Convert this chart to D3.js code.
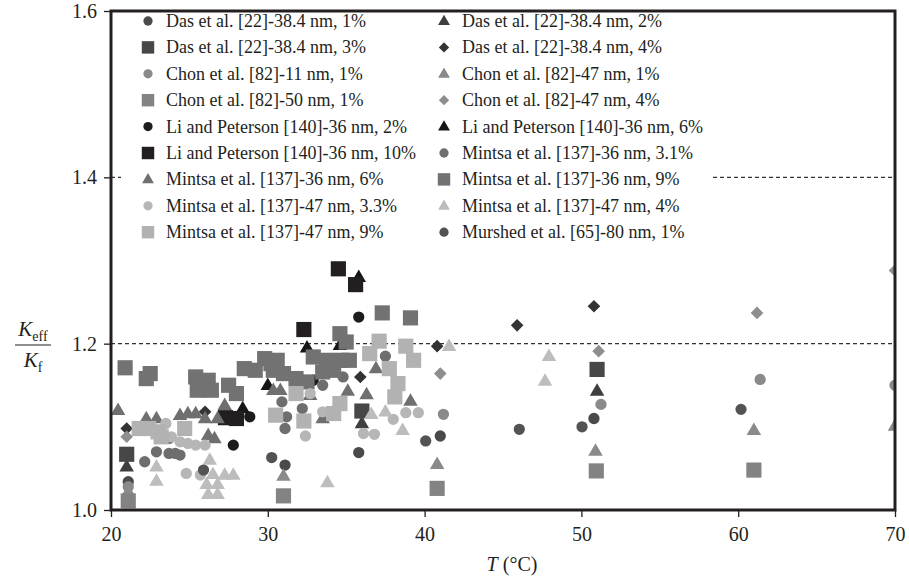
<!DOCTYPE html>
<html>
<head>
<meta charset="utf-8">
<script src="https://cdn.jsdelivr.net/npm/d3@7"></script>
<style>
  html, body { margin: 0; padding: 0; background: #fff; }
  svg { display: block; }
  text { font-family: "Liberation Serif", "DejaVu Serif", serif; fill: #231f20; }
</style>
</head>
<body>
<svg id="chart" width="909" height="578"></svg>
<script>
// Effective thermal conductivity ratio of nanofluids vs temperature, [T (°C), Keff/Kf]
const das1 = [[21.1,1.034],[31.1,1.054],[35.8,1.069],[41.0,1.089],[50.8,1.110]];
const das2 = [[21.0,1.052],[36.0,1.104],[51.0,1.143]];
const das3 = [[21.0,1.067],[36.0,1.119],[51.0,1.169]];
const das4 = [[21.0,1.098],[26.0,1.118],[35.9,1.160],[40.8,1.197],[45.9,1.222],[50.8,1.245]];
const chon11 = [[21.1,1.028],[41.2,1.115],[51.25,1.127],[61.4,1.157],[70,1.150]];
const chon47a = [[21.1,1.022],[31.0,1.041],[40.8,1.055],[50.9,1.071],[61.0,1.096],[70,1.101]];
const chon50 = [[21.1,1.011],[31.0,1.017],[40.8,1.026],[50.95,1.047],[61.0,1.048]];
const chon47b = [[21.0,1.088],[41.0,1.164],[51.1,1.191],[61.2,1.237],[70,1.288]];
const li2 = [[27.8,1.078],[28.85,1.112],[32.9,1.156],[35.8,1.232]];
const li6 = [[28.4,1.122],[30.0,1.150],[32.5,1.195],[34.6,1.198],[35.8,1.280]];
const li10 = [[27.3,1.111],[28.0,1.110],[32.3,1.217],[34.5,1.290],[35.6,1.271]];
const mintsa31 = [[22.15,1.058],[22.9,1.070],[23.7,1.086],[23.7,1.068],[24.1,1.068],[24.4,1.066],[30.9,1.130],[31.1,1.098],[31.2,1.112],[32.2,1.122],[33.5,1.150],[34.8,1.160],[37.5,1.185]];
const mintsa6 = [[20.45,1.120],[22.25,1.110],[22.9,1.110],[24.4,1.114],[24.9,1.116],[25.4,1.116],[26.0,1.110],[26.8,1.110],[26.2,1.090],[26.6,1.086],[27.25,1.126],[30.35,1.144],[30.8,1.144],[32.7,1.138],[33.5,1.110],[35.1,1.143],[36.3,1.139],[36.9,1.170],[39.1,1.131]];
const mintsa9 = [[20.9,1.171],[22.25,1.158],[22.5,1.164],[25.4,1.160],[25.5,1.144],[26.2,1.156],[26.4,1.144],[27.5,1.150],[28.0,1.140],[28.5,1.170],[29.2,1.168],[29.8,1.182],[30.2,1.176],[30.35,1.168],[30.6,1.180],[31.0,1.164],[31.8,1.158],[32.5,1.154],[32.9,1.184],[33.5,1.166],[33.75,1.180],[34.2,1.168],[34.6,1.212],[35.0,1.202],[34.7,1.180],[35.2,1.180],[37.3,1.237],[39.1,1.231]];
const mintsa47a = [[23.5,1.104],[23.85,1.088],[24.4,1.082],[24.9,1.080],[25.4,1.078],[26.0,1.078],[24.8,1.044],[25.7,1.042],[32.4,1.089],[32.7,1.140],[33.5,1.118],[36.1,1.092],[36.8,1.091],[38.0,1.109],[38.8,1.117],[39.6,1.117]];
const mintsa47b = [[22.9,1.052],[22.9,1.035],[26.3,1.060],[26.5,1.043],[27.25,1.042],[27.8,1.042],[26.1,1.031],[26.8,1.031],[26.2,1.019],[26.8,1.019],[33.8,1.033],[36.6,1.115],[37.5,1.118],[38.6,1.096],[41.56,1.197],[47.68,1.155],[47.93,1.185]];
const mintsa47c = [[21.8,1.098],[22.4,1.098],[23.0,1.094],[23.2,1.088],[24.7,1.098],[30.5,1.114],[31.8,1.140],[32.3,1.107],[34.2,1.116],[34.6,1.128],[36.5,1.188],[37.1,1.203],[37.75,1.170],[38.1,1.136],[38.3,1.152],[38.8,1.197],[39.3,1.180]];
const murshed = [[25.9,1.048],[30.25,1.063],[40.07,1.083],[46.04,1.097],[50.04,1.100],[60.18,1.121]];

const labels = [
  "Das et al. [22]-38.4 nm, 1%", "Das et al. [22]-38.4 nm, 2%",
  "Das et al. [22]-38.4 nm, 3%", "Das et al. [22]-38.4 nm, 4%",
  "Chon et al. [82]-11 nm, 1%", "Chon et al. [82]-47 nm, 1%",
  "Chon et al. [82]-50 nm, 1%", "Chon et al. [82]-47 nm, 4%",
  "Li and Peterson [140]-36 nm, 2%", "Li and Peterson [140]-36 nm, 6%",
  "Li and Peterson [140]-36 nm, 10%", "Mintsa et al. [137]-36 nm, 3.1%",
  "Mintsa et al. [137]-36 nm, 6%", "Mintsa et al. [137]-36 nm, 9%",
  "Mintsa et al. [137]-47 nm, 3.3%", "Mintsa et al. [137]-47 nm, 4%",
  "Mintsa et al. [137]-47 nm, 9%", "Murshed et al. [65]-80 nm, 1%"
];
const seriesData = [das1, das2, das3, das4, chon11, chon47a, chon50, chon47b,
  li2, li6, li10, mintsa31, mintsa6, mintsa9, mintsa47a, mintsa47b, mintsa47c, murshed];
const shapes = ["circle","triangle","square","diamond","circle","triangle","square","diamond",
  "circle","triangle","square","circle","triangle","square","circle","triangle","square","circle"];
const colors = ["#4a4a4a","#3e3e3e","#474747","#333333","#8a8a8a","#8a8a8a","#838383","#8e8e8e",
  "#1c1c1c","#161616","#231f20","#6e6e6e","#6f6f6f","#727272","#b6b6b6","#bdbdbd","#b2b2b2","#535353"];

const xTicks = [20, 30, 40, 50, 60, 70];
const yTicks = [1.0, 1.2, 1.4, 1.6];
const gridValues = [1.2, 1.4];

const plot = { left: 111, right: 895, top: 11, bottom: 510 };

const svg = d3.select("#chart");
const x = d3.scaleLinear().domain([20, 70]).range([plot.left, plot.right]);
const y = d3.scaleLinear().domain([1.0, 1.6]).range([plot.bottom, plot.top]);

// marker paths (pixel sizes)
function symbolPath(shape, big) {
  const k = big ? 1 : 0.82;
  if (shape === "circle") return d3.symbol(d3.symbolCircle, 100 * k * k)();
  if (shape === "square") return d3.symbol(d3.symbolSquare, 230 * k * k)();
  if (shape === "triangle") {
    const w = 14.5 * k, h = 12.5 * k;
    return `M0,${-h * 0.62}L${w / 2},${h * 0.38}L${-w / 2},${h * 0.38}Z`;
  }
  const r = 6.3 * k;
  return `M0,${-r}L${r},0L0,${r}L${-r},0Z`;
}

// dashed reference lines
svg.append("g").selectAll("line").data(gridValues).join("line")
  .attr("x1", plot.left).attr("x2", plot.right)
  .attr("y1", d => y(d)).attr("y2", d => y(d))
  .attr("stroke", "#333").attr("stroke-width", 1.4)
  .attr("stroke-dasharray", "4,3");

// clip region for markers
svg.append("defs").append("clipPath").attr("id", "plotclip")
  .append("rect").attr("x", plot.left).attr("y", plot.top)
  .attr("width", plot.right - plot.left).attr("height", plot.bottom - plot.top);

const marks = svg.append("g").attr("clip-path", "url(#plotclip)");
seriesData.forEach((data, i) => {
  marks.append("g").selectAll("path").data(data).join("path")
    .attr("d", symbolPath(shapes[i], true))
    .attr("transform", d => `translate(${x(d[0])},${y(d[1])})`)
    .attr("fill", colors[i]);
});

// legend panel
const legendBox = { x: 121, y: 13, w: 592, h: 232 };
svg.append("rect").attr("x", legendBox.x).attr("y", legendBox.y)
  .attr("width", legendBox.w).attr("height", legendBox.h).attr("fill", "#fff");
const colX = [148, 444];
const rowY = i => 21 + i * 26.4;
const leg = svg.append("g");
labels.forEach((lab, i) => {
  const col = i % 2, row = Math.floor(i / 2);
  const g = leg.append("g").attr("transform", `translate(${colX[col]},${rowY(row)})`);
  g.append("path").attr("d", symbolPath(shapes[i], false)).attr("fill", colors[i]);
  g.append("text").attr("x", 18).attr("y", 6).attr("font-size", 18).text(lab);
});

// axes
const xAxis = d3.axisBottom(x).tickValues(xTicks).tickFormat(d3.format("d"))
  .tickSize(7).tickSizeOuter(0);
const yAxis = d3.axisLeft(y).tickValues(yTicks).tickFormat(d3.format(".1f"))
  .tickSize(7).tickSizeOuter(0);
const gx = svg.append("g").attr("transform", `translate(0,${plot.bottom})`).call(xAxis);
const gy = svg.append("g").attr("transform", `translate(${plot.left},0)`).call(yAxis);
[gx, gy].forEach(g => {
  g.select(".domain").remove();
  g.selectAll(".tick line").attr("stroke", "#231f20").attr("stroke-width", 1.3);
  g.selectAll(".tick text").attr("font-size", 20).attr("fill", "#231f20")
    .attr("font-family", "Liberation Serif, serif");
});
gx.selectAll(".tick text").attr("dy", "1.05em");
gy.selectAll(".tick text").attr("dx", "-0.2em");

// frame
svg.append("rect").attr("x", plot.left).attr("y", plot.top)
  .attr("width", plot.right - plot.left).attr("height", plot.bottom - plot.top)
  .attr("fill", "none").attr("stroke", "#231f20").attr("stroke-width", 3);

// axis titles
const xt = svg.append("text").attr("x", 512).attr("y", 571)
  .attr("text-anchor", "middle").attr("font-size", 20);
xt.append("tspan").attr("font-style", "italic").text("T");
xt.append("tspan").text(" (°C)");

const yt = svg.append("g").attr("transform", "translate(33,345)");
const num = yt.append("text").attr("text-anchor", "middle").attr("y", -9).attr("font-size", 21);
num.append("tspan").attr("font-style", "italic").text("K");
num.append("tspan").attr("font-size", 14).attr("dy", 5).text("eff");
yt.append("line").attr("x1", -18).attr("x2", 18).attr("y1", 0).attr("y2", 0)
  .attr("stroke", "#231f20").attr("stroke-width", 1.2);
const den = yt.append("text").attr("text-anchor", "middle").attr("y", 22).attr("font-size", 21);
den.append("tspan").attr("font-style", "italic").text("K");
den.append("tspan").attr("font-size", 14).attr("dy", 5).text("f");
</script>
</body>
</html>
